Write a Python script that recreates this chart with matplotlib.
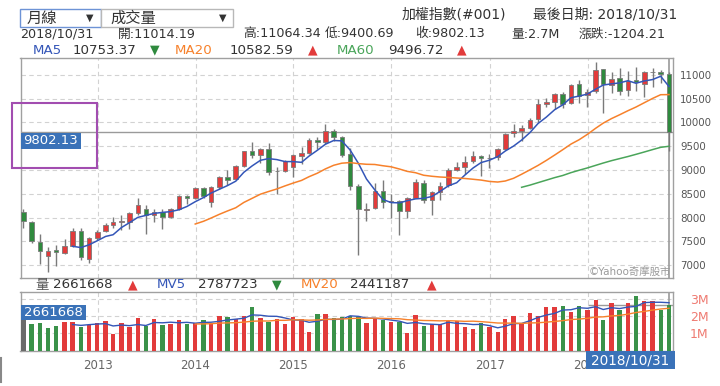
import numpy as np
import pandas as pd
import matplotlib
matplotlib.use('Agg')
import matplotlib.pyplot as plt
import matplotlib.dates as mdates
from matplotlib.patches import Rectangle
from matplotlib.lines import Line2D

plt.rcParams['font.family'] = ['DejaVu Sans', 'Noto Sans CJK TC']

# monthly candles, Mar 2012 .. Oct 2018
months = pd.period_range('2012-03', '2018-10', freq='M')

opens = [8125, 7900, 7490, 7200, 7310, 7250, 7400, 7715, 7130, 7560,
         7710, 7850, 7915, 7910, 8090, 8180, 8062, 8107, 8021, 8170, 8450, 8410,
         8611, 8330, 8640, 8850, 8800, 9075, 9400, 9315, 9440, 8970, 8980, 9060,
         9300, 9360, 9630, 9590, 9820, 9700, 9330, 8660, 8150, 8190, 8560, 8330,
         8338, 8130, 8420, 8730, 8370, 8535, 8680, 9008, 9070, 9180, 9290, 9245,
         9272, 9448, 9766, 9823, 9880, 10060, 10380, 10430, 10588, 10400, 10800, 10570,
         10664, 11119, 10777, 10930, 10683, 10897, 10813, 11060, 11062, 11014.19]
highs = [8170, 7920, 7660, 7390, 7420, 7540, 7780, 7770, 7600, 7740,
         7880, 8010, 8050, 8110, 8420, 8260, 8180, 8180, 8200, 8480, 8480, 8640,
         8646, 8670, 8870, 9000, 9110, 9400, 9593, 9450, 9569, 9060, 9200, 9330,
         9490, 9660, 9700, 9973, 9850, 9720, 9450, 8700, 8300, 8720, 8790, 8500,
         8360, 8440, 8800, 8780, 8560, 8745, 9050, 9175, 9300, 9400, 9320, 9340,
         9470, 9779, 9972, 9935, 10100, 10497, 10518, 10626, 10633, 10806, 10892, 10690,
         11270, 11123, 11060, 11143, 11077, 11166, 11082, 11133, 11090, 11064.34]
lows = [7790, 7460, 7030, 6857, 6980, 7240, 7380, 7100, 7050, 7520,
        7700, 7780, 7740, 7760, 8060, 7663, 7900, 7760, 7990, 8150, 8280, 8380,
        8420, 8230, 8600, 8690, 8790, 9060, 9260, 9150, 8900, 8501, 8950, 8860,
        9134, 9340, 9440, 9550, 9600, 9280, 8580, 7203, 7920, 8170, 8200, 7990,
        7627, 7980, 8400, 8300, 8053, 8370, 8640, 8980, 8921, 9140, 8880, 9050,
        9201, 9412, 9685, 9612, 9850, 10002, 10332, 10284, 10292, 10380, 10400, 10325,
        10620, 10189, 10625, 10574, 10550, 10658, 10525, 10747, 10823, 9400.69]
closes = [7933, 7501, 7301, 7296, 7270, 7397, 7715, 7166, 7580, 7700,
          7850, 7897, 7918, 8093, 8254, 8062, 8107, 8021, 8173, 8450, 8406, 8611,
          8462, 8639, 8849, 8791, 9075, 9393, 9315, 9436, 8966, 8974, 9187, 9307,
          9361, 9622, 9586, 9820, 9701, 9323, 8665, 8175, 8181, 8554, 8320, 8338,
          8145, 8411, 8744, 8377, 8535, 8666, 9007, 9069, 9166, 9290, 9240, 9254,
          9448, 9750, 9811, 9872, 10041, 10395, 10427, 10586, 10384, 10794, 10560, 10643,
          11104, 10815, 10919, 10657, 10875, 10837, 11057, 11064, 11006.34, 9802.13]
# volume in millions
volume = [2.20, 1.54, 1.60, 1.31, 1.41, 1.64, 1.64, 1.35, 1.52, 1.60,
          1.73, 0.98, 1.61, 1.35, 1.93, 1.44, 1.86, 1.52, 1.53, 1.76, 1.57, 1.61,
          1.76, 1.57, 2.03, 1.95, 1.86, 2.03, 2.54, 1.93, 1.67, 1.82, 1.56, 1.96,
          1.85, 1.06, 2.13, 2.13, 1.90, 1.95, 2.03, 1.98, 1.63, 1.82, 1.78, 1.69,
          1.65, 1.00, 2.07, 1.43, 1.53, 1.53, 1.72, 1.72, 1.36, 1.26, 1.59, 1.36,
          1.07, 1.82, 2.03, 1.63, 2.17, 2.02, 2.52, 2.52, 2.60, 2.27, 2.60, 2.36,
          2.98, 1.78, 2.79, 2.36, 2.79, 3.18, 2.89, 2.89, 2.36, 2.66]

price_ticks = list(range(7000, 11001, 500))
vol_ticks = [1, 2, 3]
vol_labels = ['1M', '2M', '3M']
years = [2013, 2014, 2015, 2016, 2017, 2018]
ma_text = ['10753.37', '10582.59', '9496.72']
mv_text = ['2661668', '2787723', '2441187']

RED = '#e23b3b'
GREEN = '#2f8a3e'
VGREEN = '#3a9249'
BLUE = '#3456b8'
ORANGE = '#f7812b'
MAGREEN = '#4aa55a'
BOXBLUE = '#3a72b8'

W, H = 720, 386
def fx(px): return px / W
def fy(py): return 1 - py / H

x = mdates.date2num(months.end_time.normalize().values)
o, h, l, c = map(np.array, (opens, highs, lows, closes))
v = np.array(volume)
year_x = mdates.date2num(pd.to_datetime([f'{y}-01-01' for y in years]).values)
xlim = mdates.date2num(pd.to_datetime(['2012-03-20', '2018-11-15']).values)

fig = plt.figure(figsize=(7.2, 3.86), dpi=100)
ax = fig.add_axes([fx(20.5), fy(278.3), fx(673) - fx(20.5), (278.3 - 58) / H])
axv = fig.add_axes([fx(20.5), fy(350.5), fx(673) - fx(20.5), (350.5 - 291.7) / H])

# candles
body_col = np.where(c >= o, RED, GREEN)
ax.vlines(x, l, h, color='#7a7a7a', lw=1, zorder=3)
ax.bar(x, np.abs(c - o), bottom=np.minimum(o, c), width=17, color=body_col,
       edgecolor='#7a7a7a', linewidth=0.6, zorder=4)

cs = pd.Series(c)
for n, col in [(5, BLUE), (20, ORANGE), (60, MAGREEN)]:
    ma = cs.rolling(n).mean()
    ma.iloc[:n + 1] = np.nan
    ax.plot(x, ma, color=col, lw=1.1, zorder=5)

ax.axhline(c[-1], color='#9a9a9a', lw=1, zorder=2)
ax.axvline(x[-1], color='#9a9a9a', lw=1.2, zorder=2)

ax.set_xlim(xlim)
ax.set_ylim(6723, 11351)
ax.set_yticks(price_ticks)
ax.set_xticks(year_x)
ax.set_xticklabels([])
ax.yaxis.tick_right()
ax.tick_params(axis='both', length=0)
ax.tick_params(axis='y', pad=5, labelsize=7.4, labelcolor='#555555')
ax.grid(True, color='#d2d2d2', ls=(0, (4, 3)), lw=0.8)
ax.set_axisbelow(True)

# volume
vcol = ['#6a6a6a'] + [RED if c[i] >= c[i - 1] else VGREEN for i in range(1, len(c))]
axv.bar(x, v, width=16, color=vcol, zorder=3)
vs = pd.Series(v)
for n, col in [(5, BLUE), (20, ORANGE)]:
    mv = vs.rolling(n).mean()
    mv.iloc[:n + 1] = np.nan
    axv.plot(x, mv, color=col, lw=1, zorder=4)
axv.hlines(v[-1], year_x[-1], xlim[1], color='#9a9a9a', lw=1, zorder=2)
axv.axvline(x[-1], color='#9a9a9a', lw=1.2, zorder=2)

axv.set_xlim(xlim)
axv.set_ylim(0, 3.44)
axv.set_yticks(vol_ticks)
axv.set_yticklabels(vol_labels)
axv.set_xticks(year_x)
axv.set_xticklabels([str(y) for y in years])
axv.yaxis.tick_right()
axv.tick_params(axis='both', length=0)
axv.tick_params(axis='y', pad=12, labelsize=9, labelcolor='#ef7b72')
axv.tick_params(axis='x', pad=6, labelsize=8.5, labelcolor='#666666')
axv.grid(True, color='#d2d2d2', ls=(0, (4, 3)), lw=0.8)
axv.set_axisbelow(True)

for a in (ax, axv):
    for s in a.spines.values():
        s.set_color('#a0a0a0')
        s.set_linewidth(1)

def put(px, py, s, color='#333333', size=9.2, **kw):
    fig.text(fx(px), fy(py), s, color=color, fontsize=size, va='center', ha='left', zorder=12, **kw)

def box(x0, y0, x1, y1, face, edge=None, lw=0, z=10):
    fig.add_artist(Rectangle((fx(x0), fy(y1)), fx(x1) - fx(x0), (y1 - y0) / H,
                             transform=fig.transFigure, facecolor=face,
                             edgecolor=edge if edge else face, linewidth=lw, zorder=z))

# dropdowns
box(20, 9, 101, 27, 'white', '#6d93d6', 1)
box(101, 9, 233, 27, 'white', '#b8b8b8', 1)
put(27, 18, '月線', size=11)
put(86, 18, '▼', size=7)
put(110, 18, '成交量', size=11)
put(219, 18, '▼', size=7)

# header
put(401.7, 15, '加權指數(#001)', size=10)
put(533.3, 15, '最後日期: 2018/10/31', size=10)

put(20.5, 34, '2018/10/31')
put(118.3, 34, f'開:{o[-1]:.2f}')
put(243.3, 34, f'高:{h[-1]:.2f}')
put(325, 34, f'低:{l[-1]:.2f}')
put(415, 34, f'收:{c[-1]:.2f}')
put(511.7, 34, f'量:{v[-1]:.1f}M')
put(578.3, 34, f'漲跌:{c[-1] - c[-2]:.2f}')

put(32.3, 50, 'MA5', color=BLUE, size=9.6)
put(72.7, 50, ma_text[0], size=9.6)
put(150, 50, '▼', color=GREEN, size=9)
put(175, 50, 'MA20', color=ORANGE, size=9.6)
put(230, 50, ma_text[1], size=9.6)
put(308.3, 50, '▲', color=RED, size=9)
put(336.7, 50, 'MA60', color=MAGREEN, size=9.6)
put(388.3, 50, ma_text[2], size=9.6)
put(456.7, 50, '▲', color=RED, size=9)

# volume legend
put(35, 285, '量', color='#555555', size=9.6)
put(53, 285, mv_text[0], size=9.6)
put(128, 285, '▲', color=RED, size=9)
put(157, 285, 'MV5', color=BLUE, size=9.6)
put(198, 285, mv_text[1], size=9.6)
put(272, 285, '▼', color=GREEN, size=9)
put(301, 285, 'MV20', color=ORANGE, size=9.6)
put(350, 285, mv_text[2], size=9.6)
put(427, 285, '▲', color=RED, size=9)

fig.text(fx(671), fy(272), '©Yahoo奇摩股市', ha='right', va='center', fontsize=7.5, color='#9a9a9a')

# value boxes
box(20.5, 133, 81, 149, BOXBLUE)
fig.text(fx(50.7), fy(141), f'{c[-1]:.2f}', ha='center', va='center', color='white', fontsize=9.5, zorder=11)
box(20.5, 305, 86, 320, BOXBLUE)
fig.text(fx(53.2), fy(312.5), mv_text[0], ha='center', va='center', color='white', fontsize=9.5, zorder=11)
box(586, 351, 675, 369, BOXBLUE)
fig.text(fx(630.5), fy(360), '2018/10/31', ha='center', va='center', color='white', fontsize=9.8, zorder=11)

# purple highlight
fig.add_artist(Rectangle((fx(12.3), fy(168.3)), fx(97.3) - fx(12.3), (168.3 - 103.3) / H,
                         transform=fig.transFigure, fill=False, edgecolor='#a24db0', linewidth=1.5, zorder=20))
fig.add_artist(Line2D([fx(1), fx(1)], [fy(358), fy(382)], color='#888888', lw=1.5))

fig.savefig('out.png', dpi=100)
